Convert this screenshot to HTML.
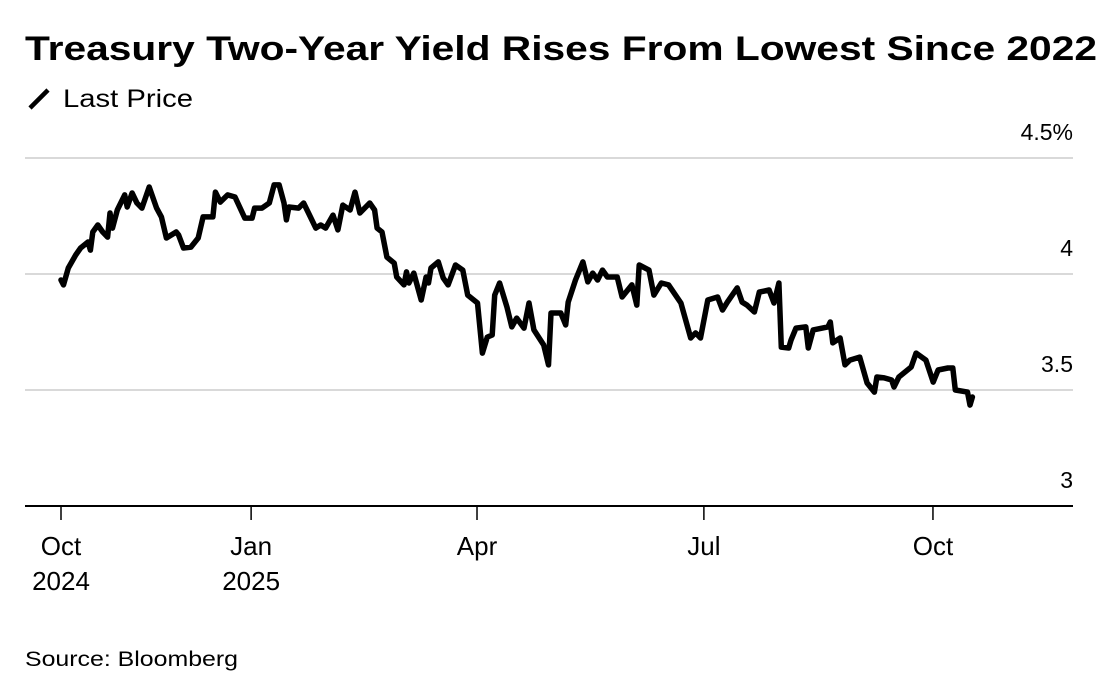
<!DOCTYPE html>
<html><head><meta charset="utf-8">
<style>
body{margin:0;background:#fff;width:1120px;height:682px;overflow:hidden;font-family:"Liberation Sans",sans-serif;color:#000}
svg{position:absolute;left:0;top:0}
</style></head>
<body>
<svg width="1120" height="682" id="chart">
<text x="25" y="60" font-size="34" font-weight="bold" textLength="1072" lengthAdjust="spacingAndGlyphs">Treasury Two-Year Yield Rises From Lowest Since 2022</text>
<g>
<line x1="30" y1="108" x2="48" y2="90" stroke="#000" stroke-width="4.5"/>
<text x="63" y="107" font-size="25" textLength="130" lengthAdjust="spacingAndGlyphs">Last Price</text>
</g>
<g id="grid"></g>
<g id="xaxis"></g>
<path id="line" fill="none" stroke="#000" stroke-width="5.5" stroke-linejoin="round" stroke-linecap="round"/>
<text x="25" y="666" font-size="21" textLength="213" lengthAdjust="spacingAndGlyphs">Source: Bloomberg</text>
</svg>
<script>
const days=[0,1,3,6,8,11,12,13,15,17,19,20,21,23,26,27,29,31,33,36,39,41,43,47,48,50,53,56,58,62,63,65,68,71,75,78,79,82,85,87,89,91,92,93,97,99,101,104,106,108,111,113,115,118,120,122,126,128,129,131,133,136,137,140,141,142,144,147,149,150,151,154,156,158,161,164,166,170,172,174,176,177,179,182,184,186,189,191,193,197,199,200,204,206,207,210,213,215,217,219,221,223,227,229,233,235,236,240,242,245,248,253,257,259,261,264,268,270,272,276,278,280,283,285,289,291,293,294,297,298,300,304,305,307,313,314,315,318,320,322,326,329,332,333,336,339,340,342,347,349,353,356,358,362,364,365,370,371,372];
const yields=[3.974,3.953,4.026,4.082,4.112,4.138,4.103,4.181,4.211,4.181,4.159,4.263,4.198,4.276,4.341,4.289,4.349,4.306,4.284,4.375,4.284,4.246,4.155,4.181,4.168,4.112,4.116,4.155,4.246,4.246,4.353,4.310,4.341,4.332,4.241,4.241,4.284,4.284,4.306,4.384,4.384,4.306,4.233,4.289,4.284,4.306,4.263,4.198,4.211,4.198,4.254,4.190,4.297,4.276,4.353,4.263,4.306,4.276,4.198,4.181,4.073,4.047,3.987,3.953,4.009,3.961,4.004,3.888,3.987,3.961,4.026,4.052,3.983,3.953,4.039,4.017,3.909,3.875,3.659,3.728,3.737,3.909,3.961,3.858,3.772,3.810,3.767,3.875,3.759,3.694,3.608,3.832,3.832,3.780,3.879,3.974,4.052,3.966,4.004,3.974,4.017,3.987,3.987,3.901,3.953,3.866,4.039,4.017,3.909,3.961,3.953,3.875,3.724,3.746,3.724,3.888,3.901,3.845,3.879,3.940,3.879,3.866,3.836,3.922,3.931,3.875,3.961,3.685,3.681,3.716,3.767,3.772,3.681,3.759,3.772,3.793,3.703,3.724,3.608,3.629,3.642,3.530,3.491,3.556,3.552,3.543,3.513,3.556,3.599,3.659,3.629,3.534,3.586,3.595,3.595,3.500,3.491,3.435,3.470];
const yTicks=[3,3.5,4,4.5];
const yTickLabels=["3","3.5","4","4.5%"];
const xTickDays=[0,77.6,169.8,262.4,355.9];
const xTickLabels=[["Oct","2024"],["Jan","2025"],["Apr",""],["Jul",""],["Oct",""]];
const X=d=>61+d*2.45;
const Y=v=>158+(4.5-v)*232;
const NS="http://www.w3.org/2000/svg";
const grid=document.getElementById('grid'),xa=document.getElementById('xaxis');
yTicks.forEach((t,i)=>{
  if(t>3){const l=document.createElementNS(NS,'line');
  l.setAttribute('x1',25);l.setAttribute('x2',1073);l.setAttribute('y1',Y(t));l.setAttribute('y2',Y(t));
  l.setAttribute('stroke','#d9d9d9');l.setAttribute('stroke-width','2');
  
  
  grid.appendChild(l);}
  const tx=document.createElementNS(NS,'text');
  tx.setAttribute('x',1073);tx.setAttribute('y',Y(t)-18);tx.setAttribute('text-anchor','end');tx.setAttribute('font-size','23');
  tx.textContent=yTickLabels[i];
  
  
  grid.appendChild(tx);
});
const base=document.createElementNS(NS,'line');
base.setAttribute('x1',25);base.setAttribute('x2',1073);base.setAttribute('y1',506);base.setAttribute('y2',506);base.setAttribute('stroke','#000');base.setAttribute('stroke-width','2');


xa.appendChild(base);
xTickDays.forEach((d,i)=>{
  const l=document.createElementNS(NS,'line');
  l.setAttribute('x1',X(d));l.setAttribute('x2',X(d));l.setAttribute('y1',506);l.setAttribute('y2',520);l.setAttribute('stroke','#000');l.setAttribute('stroke-width','1.5');
  
  
  xa.appendChild(l);
  xTickLabels[i].forEach((s,j)=>{ if(!s)return;
    const tx=document.createElementNS(NS,'text');
    tx.setAttribute('x',X(d));tx.setAttribute('y',555+j*35);tx.setAttribute('text-anchor','middle');tx.setAttribute('font-size','26');
    tx.textContent=s;
    
    
    xa.appendChild(tx);
  });
});
document.getElementById('line').setAttribute('d',days.map((d,i)=>(i?'L':'M')+X(d).toFixed(1)+' '+Y(yields[i]).toFixed(1)).join(''));
</script>
</body></html>
